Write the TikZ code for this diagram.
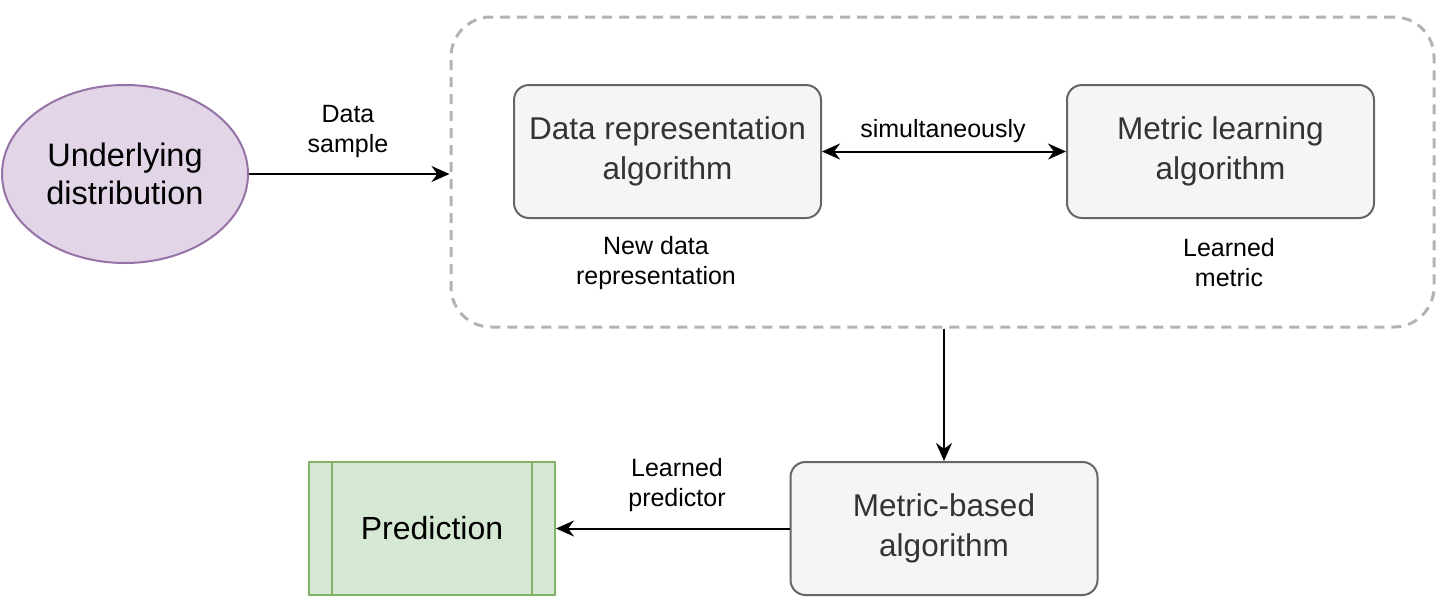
\documentclass[tikz,border=0pt]{standalone}
\usepackage{fontspec}
\setmainfont{Liberation Sans}
\usetikzlibrary{shapes.geometric,arrows.meta,calc}
\definecolor{purfill}{HTML}{E1D5E7}
\definecolor{purline}{HTML}{9673A6}
\definecolor{boxfill}{HTML}{F5F5F5}
\definecolor{boxline}{HTML}{666666}
\definecolor{boxtext}{HTML}{333333}
\definecolor{grnfill}{HTML}{D5E8D4}
\definecolor{grnline}{HTML}{82B366}
\definecolor{dashgray}{HTML}{B3B3B3}
\tikzset{
  algbox/.style={draw=boxline, fill=boxfill, text=boxtext, line width=2pt, rounded corners=15pt,
    minimum width=307pt, minimum height=133pt, align=center, inner sep=0pt,
    font=\fontsize{31.5}{40}\selectfont},
  lbl/.style={align=center, inner sep=0pt, font=\fontsize{25}{30}\selectfont},
  conn/.style={line width=2pt, -{Stealth[length=18pt,width=16pt]}},
  dconn/.style={line width=2pt, {Stealth[length=18pt,width=16pt]}-{Stealth[length=18pt,width=16pt]}}
}
\begin{document}
\begin{tikzpicture}[x=1pt,y=-1pt]
\useasboundingbox (0,0) rectangle (1438,598);
\node[draw=dashgray, line width=3pt, dash pattern=on 10pt off 7pt, rounded corners=40pt,
  minimum width=983pt, minimum height=310pt, inner sep=0pt] (cont) at (942.5,172) {};
\node[ellipse, draw=purline, fill=purfill, line width=2pt, minimum width=246pt, minimum height=178pt,
  inner sep=0pt, align=center, font=\fontsize{32.5}{38}\selectfont] (ell) at (125,174) {Underlying\\distribution};
\node[algbox] (dr) at (667.5,151.5) {Data representation\\algorithm};
\node[algbox] (ml) at (1220.5,151.5) {Metric learning\\algorithm};
\node[algbox] (mb) at (944,528.5) {Metric-based\\algorithm};
\node[draw=grnline, fill=grnfill, line width=2pt, minimum width=246pt, minimum height=133pt,
  inner sep=0pt, font=\fontsize{32}{38}\selectfont] (pred) at (432,528.5) {Prediction};
\draw[grnline, line width=2pt] ($(pred.north west)+(24,0)$) -- ($(pred.south west)+(24,0)$);
\draw[grnline, line width=2pt] ($(pred.north east)+(-24,0)$) -- ($(pred.south east)+(-24,0)$);
\node[lbl] (ds) at (348,131) {Data\\sample};
\node[lbl] (sim) at (943,131) {simultaneously};
\node[lbl] (ndr) at (656,263) {New data\\representation};
\node[lbl] (lm) at (1229,263) {Learned\\metric};
\node[lbl] (lp) at (677,485) {Learned\\predictor};
\draw[conn] (ell.east) -- (ell.east -| cont.west);
\draw[dconn] (dr.east) -- (ml.west);
\draw[conn] (mb.north |- cont.south) -- (mb.north);
\draw[conn] (mb.west) -- (pred.east);
\end{tikzpicture}
\end{document}
